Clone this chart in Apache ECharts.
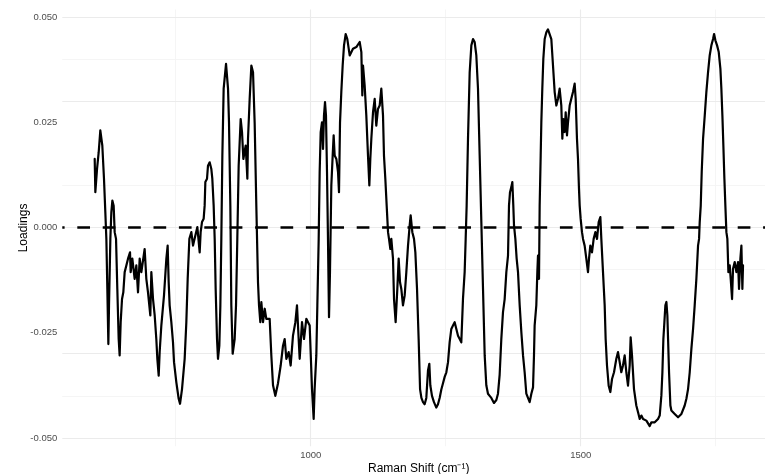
<!DOCTYPE html>
<html>
<head>
<meta charset="utf-8">
<script src="https://cdn.jsdelivr.net/npm/echarts@6/dist/echarts.min.js"></script>
<style>
html,body{margin:0;padding:0;background:#ffffff;}
#chart{width:765px;height:474px;}
</style>
</head>
<body>
<div id="chart"></div>
<script>
// Raman shift (cm^-1)
const ramanShift = [
600.0,601.2,604.3,607.4,610.4,612.3,614.1,617.2,619.7,621.6,623.4,625.3,626.5,629.0,630.8,632.7,635.1,637.0,639.5,641.9,
644.4,646.2,648.1,650.6,653.0,655.5,658.6,661.7,665.4,666.6,669.7,674.0,677.1,680.2,683.3,686.4,692.5,695.6,698.7,703.0,
704.9,708.0,711.1,714.1,716.0,718.5,720.3,723.4,728.3,732.7,735.1,737.0,738.8,741.9,745.0,746.9,751.2,755.5,758.0,761.7,
766.6,769.7,772.2,775.3,779.0,782.1,786.4,790.1,794.4,796.2,798.7,801.8,803.6,804.9,808.0,809.8,812.9,816.0,817.8,820.3,
822.2,824.0,826.5,828.3,830.8,832.7,834.5,836.4,838.8,843.2,846.9,848.7,851.2,853.0,855.5,859.2,861.7,864.1,866.6,870.3,
872.8,875.3,879.6,882.7,883.9,887.0,890.1,893.2,896.2,899.3,902.4,904.3,906.7,908.6,911.7,914.8,917.8,924.0,927.1,930.2,
934.5,939.5,944.4,948.7,951.8,954.9,959.2,962.9,967.2,971.6,974.6,977.7,979.6,983.9,987.6,991.9,995.0,998.1,999.9,1002.4,
1005.5,1007.3,1010.4,1012.3,1014.8,1016.6,1018.5,1020.9,1022.8,1024.6,1026.5,1028.3,1030.2,1032.0,1033.9,1035.7,1038.2,1040.7,1042.5,1044.4,
1047.5,1050.6,1052.4,1054.3,1056.7,1059.2,1061.7,1064.8,1067.8,1072.2,1075.2,1078.3,1081.4,1084.5,1087.6,1090.7,1093.8,1095.6,1096.9,1099.9,
1103.0,1106.1,1108.6,1110.4,1112.3,1115.4,1118.5,1121.5,1124.6,1127.7,1130.8,1133.9,1135.7,1138.2,1140.7,1143.2,1145.0,1147.5,1149.3,1152.4,
1154.3,1157.3,1160.4,1162.9,1165.4,1167.8,1170.9,1174.0,1177.1,1180.2,1183.3,1185.1,1188.2,1191.3,1193.8,1196.9,1199.9,1202.5,1205.0,1208.0,
1211.0,1214.1,1217.2,1219.7,1221.5,1224.6,1228.3,1232.6,1235.7,1238.8,1241.9,1245.0,1248.1,1251.2,1254.3,1257.3,1260.4,1263.5,1266.6,1269.7,
1272.8,1275.9,1278.9,1282.0,1285.1,1287.0,1288.8,1291.3,1294.4,1297.5,1300.6,1303.6,1306.7,1309.8,1312.9,1316.0,1319.1,1322.2,1325.2,1328.3,
1331.4,1334.5,1339.4,1343.8,1346.8,1349.9,1353.0,1356.1,1359.2,1362.3,1365.4,1367.2,1369.1,1371.5,1373.4,1375.2,1376.5,1379.0,1381.4,1383.9,
1387.0,1390.1,1393.2,1396.2,1399.3,1402.4,1405.5,1408.6,1411.7,1413.5,1414.7,1417.8,1419.7,1420.9,1422.8,1424.0,1425.9,1427.1,1428.9,1430.8,
1433.3,1436.4,1439.4,1442.5,1445.6,1448.7,1451.8,1454.9,1458.0,1461.0,1464.1,1466.0,1467.8,1470.3,1472.2,1474.6,1476.5,1479.6,1482.6,1485.7,
1488.8,1490.7,1493.1,1495.0,1496.8,1498.1,1499.9,1502.4,1504.3,1507.3,1510.4,1513.5,1515.4,1517.8,1520.9,1524.0,1527.1,1530.2,1533.3,1536.4,
1538.2,1541.3,1544.4,1546.2,1548.7,1551.8,1554.9,1558.0,1561.7,1566.0,1569.1,1572.2,1575.2,1578.3,1581.4,1584.5,1587.6,1590.7,1592.5,1595.0,
1598.7,1603.0,1606.2,1609.3,1612.4,1615.5,1618.5,1621.6,1624.7,1627.8,1630.9,1634.0,1637.1,1640.1,1643.2,1646.3,1649.4,1651.3,1653.1,1655.0,
1656.8,1658.7,1660.5,1661.8,1663.6,1666.1,1667.9,1671.0,1674.1,1677.2,1680.3,1683.4,1686.5,1689.5,1692.6,1695.7,1698.8,1701.9,1705.0,1708.1,
1711.1,1714.2,1717.3,1719.2,1720.4,1722.3,1724.1,1726.6,1729.7,1732.7,1735.8,1738.9,1742.0,1745.1,1747.0,1749.4,1752.5,1755.6,1758.7,1760.5,
1762.4,1764.2,1766.1,1767.9,1769.8,1771.6,1773.5,1776.0,1777.8,1780.3,1782.1,1785.2,1788.3,1791.4,1793.2,1795.7,1797.6,1799.4,1800.6
];

// Loadings
const loadings = [
0.0163,0.0084,0.0139,0.0179,0.0231,0.0227,0.0195,0.0116,0.0036,-0.0027,-0.0146,-0.0277,-0.0185,-0.0027,0.0036,0.0064,0.0052,-0.0011,-0.0027,-0.0146,
-0.0265,-0.0304,-0.0225,-0.0170,-0.0154,-0.0106,-0.0090,-0.0074,-0.0059,-0.0106,-0.0074,-0.0122,-0.0090,-0.0154,-0.0074,-0.0106,-0.0051,-0.0122,-0.0154,-0.0209,
-0.0106,-0.0170,-0.0209,-0.0265,-0.0312,-0.0352,-0.0296,-0.0233,-0.0162,-0.0074,-0.0043,-0.0130,-0.0185,-0.0225,-0.0273,-0.0320,-0.0368,-0.0407,-0.0419,-0.0384,
-0.0312,-0.0225,-0.0122,-0.0027,-0.0011,-0.0043,-0.0019,0.0001,-0.0059,-0.0011,0.0013,0.0021,0.0052,0.0108,0.0116,0.0147,0.0155,0.0139,0.0116,0.0052,
-0.0027,-0.0146,-0.0265,-0.0312,-0.0281,-0.0185,-0.0027,0.0171,0.0330,0.0389,0.0330,0.0250,0.0052,-0.0185,-0.0300,-0.0265,-0.0185,-0.0027,0.0147,0.0258,
0.0227,0.0163,0.0195,0.0116,0.0211,0.0306,0.0385,0.0369,0.0250,0.0052,-0.0130,-0.0185,-0.0225,-0.0177,-0.0225,-0.0193,-0.0217,-0.0217,-0.0304,-0.0375,
-0.0400,-0.0370,-0.0328,-0.0281,-0.0265,-0.0312,-0.0296,-0.0328,-0.0257,-0.0225,-0.0185,-0.0265,-0.0312,-0.0225,-0.0265,-0.0217,-0.0225,-0.0233,-0.0296,-0.0384,
-0.0455,-0.0384,-0.0304,-0.0185,-0.0027,0.0132,0.0227,0.0250,0.0187,0.0266,0.0298,0.0266,0.0132,-0.0027,-0.0213,-0.0106,0.0100,0.0171,0.0219,0.0171,
0.0163,0.0132,0.0084,0.0250,0.0322,0.0385,0.0433,0.0460,0.0448,0.0409,0.0405,0.0425,0.0421,0.0429,0.0433,0.0441,0.0417,0.0314,0.0385,0.0338,
0.0266,0.0171,0.0100,0.0163,0.0211,0.0274,0.0306,0.0242,0.0282,0.0290,0.0330,0.0266,0.0171,0.0116,0.0052,-0.0011,-0.0027,-0.0051,-0.0027,-0.0074,
-0.0170,-0.0225,-0.0146,-0.0074,-0.0130,-0.0146,-0.0185,-0.0162,-0.0106,-0.0043,0.0005,0.0029,-0.0011,-0.0027,-0.0059,-0.0146,-0.0265,-0.0384,-0.0405,-0.0415,
-0.0420,-0.0405,-0.0340,-0.0324,-0.0375,-0.0400,-0.0415,-0.0428,-0.0420,-0.0405,-0.0385,-0.0370,-0.0355,-0.0344,-0.0320,-0.0273,-0.0241,-0.0233,-0.0225,-0.0241,
-0.0257,-0.0265,-0.0273,-0.0170,-0.0106,-0.0027,0.0052,0.0211,0.0369,0.0433,0.0448,0.0441,0.0409,0.0330,0.0171,0.0013,-0.0146,-0.0304,-0.0375,-0.0395,
-0.0400,-0.0405,-0.0417,-0.0410,-0.0395,-0.0350,-0.0265,-0.0201,-0.0170,-0.0106,-0.0067,0.0052,0.0084,0.0096,0.0108,0.0052,0.0005,-0.0027,-0.0074,-0.0106,
-0.0185,-0.0249,-0.0304,-0.0344,-0.0395,-0.0405,-0.0415,-0.0395,-0.0380,-0.0304,-0.0233,-0.0185,-0.0106,-0.0067,-0.0122,0.0052,0.0171,0.0250,0.0330,0.0401,
0.0448,0.0464,0.0471,0.0468,0.0448,0.0385,0.0322,0.0290,0.0306,0.0330,0.0290,0.0211,0.0258,0.0227,0.0274,0.0219,0.0250,0.0290,0.0306,0.0322,
0.0342,0.0306,0.0211,0.0163,0.0092,0.0052,0.0021,-0.0011,-0.0027,-0.0043,-0.0074,-0.0106,-0.0074,-0.0043,-0.0059,-0.0027,-0.0011,-0.0027,0.0013,0.0025,
-0.0027,-0.0106,-0.0185,-0.0265,-0.0328,-0.0376,-0.0391,-0.0360,-0.0344,-0.0312,-0.0296,-0.0320,-0.0344,-0.0328,-0.0304,-0.0344,-0.0376,-0.0328,-0.0261,-0.0304,
-0.0384,-0.0423,-0.0439,-0.0455,-0.0447,-0.0455,-0.0459,-0.0459,-0.0463,-0.0472,-0.0463,-0.0459,-0.0463,-0.0459,-0.0455,-0.0447,-0.0399,-0.0344,-0.0265,-0.0225,
-0.0185,-0.0177,-0.0209,-0.0265,-0.0344,-0.0423,-0.0435,-0.0439,-0.0443,-0.0447,-0.0451,-0.0451,-0.0443,-0.0439,-0.0423,-0.0407,-0.0384,-0.0344,-0.0288,-0.0241,
-0.0185,-0.0122,-0.0043,-0.0027,0.0013,0.0052,0.0132,0.0211,0.0266,0.0322,0.0369,0.0409,0.0433,0.0448,0.0460,0.0445,0.0433,0.0417,0.0377,0.0330,
0.0266,0.0195,0.0116,0.0052,-0.0011,-0.0027,-0.0106,-0.0090,-0.0122,-0.0170,-0.0098,-0.0082,-0.0106,-0.0082,-0.0146,-0.0074,-0.0043,-0.0146,-0.0090
];

const xMajorBreaks = [1000, 1500];
const xMinorBreaks = [750, 1250, 1750];
const yMajorBreaks = [-0.05, -0.025, 0, 0.025, 0.05];
const yMinorBreaks = [-0.0375, -0.0125, 0.0125, 0.0375];
const xLimits = [540, 1860];
const yLimits = [-0.052, 0.0518];
const zeroLine = [0];

const FONT = "'Liberation Sans', Arial, Helvetica, sans-serif";
const chart = echarts.init(document.getElementById('chart'), null, {renderer: 'canvas'});

const isMultiple = (v, step) => {
  const k = v / step;
  return Math.abs(k - Math.round(k)) < 1e-6;
};

const majorStyle = {color: '#EBEBEB', width: 1.1, type: 'solid'};
const minorStyle = {color: '#F4F4F4', width: 0.9, type: 'solid'};

const gridMarks = []
  .concat(xMinorBreaks.map(v => ({xAxis: v, lineStyle: minorStyle})))
  .concat(yMinorBreaks.map(v => ({yAxis: v, lineStyle: minorStyle})))
  .concat(xMajorBreaks.map(v => ({xAxis: v, lineStyle: majorStyle})))
  .concat(yMajorBreaks.map(v => ({yAxis: v, lineStyle: majorStyle})));

const option = {
  backgroundColor: '#ffffff',
  animation: false,
  grid: {left: 62.3, top: 9.6, width: 712.8, height: 436.7, containLabel: false, outerBoundsMode: 'none'},
  xAxis: {
    type: 'value',
    min: xLimits[0], max: xLimits[1], interval: 20,
    axisLine: {show: false}, axisTick: {show: false}, splitLine: {show: false},
    axisLabel: {
      color: '#4D4D4D', fontSize: 9.5, fontFamily: FONT, margin: 4,
      formatter: v => (isMultiple(v, 500) && xMajorBreaks.indexOf(Math.round(v)) >= 0) ? String(Math.round(v)) : ''
    },
    name: 'Raman Shift (cm⁻¹)',
    nameLocation: 'middle', nameGap: 16, nameMoveOverlap: false,
    nameTextStyle: {color: '#000000', fontSize: 12, fontFamily: FONT}
  },
  yAxis: {
    type: 'value',
    min: yLimits[0], max: yLimits[1], interval: 0.0005,
    axisLine: {show: false}, axisTick: {show: false}, splitLine: {show: false},
    axisLabel: {
      color: '#4D4D4D', fontSize: 9.5, fontFamily: FONT, margin: 5,
      formatter: v => isMultiple(v, 0.025) && Math.abs(v) <= 0.0501 ? (Math.abs(v) < 1e-9 ? '0.000' : v.toFixed(3)) : ''
    },
    name: 'Loadings',
    nameLocation: 'middle', nameGap: 33, nameMoveOverlap: false,
    nameTextStyle: {color: '#000000', fontSize: 12, fontFamily: FONT}
  },
  series: [
    {
      type: 'line', z: 1, silent: true, data: [], symbol: 'none',
      markLine: {z: 1, silent: true, symbol: ['none', 'none'], label: {show: false}, animation: false, data: gridMarks}
    },
    {
      type: 'line', z: 6, silent: true, symbol: 'none', showSymbol: false,
      data: ramanShift.map((x, i) => [x, loadings[i]]),
      lineStyle: {color: '#000000', width: 2.2, join: 'round', cap: 'round'}
    },
    {
      type: 'line', z: 7, silent: true, symbol: 'none', showSymbol: false,
      data: [[xLimits[0], zeroLine[0]], [xLimits[1], zeroLine[0]]],
      lineStyle: {color: '#000000', width: 2.6, type: [12.7, 12.7], dashOffset: 10.4, cap: 'butt'}
    }
  ]
};
chart.setOption(option);
</script>
</body>
</html>
